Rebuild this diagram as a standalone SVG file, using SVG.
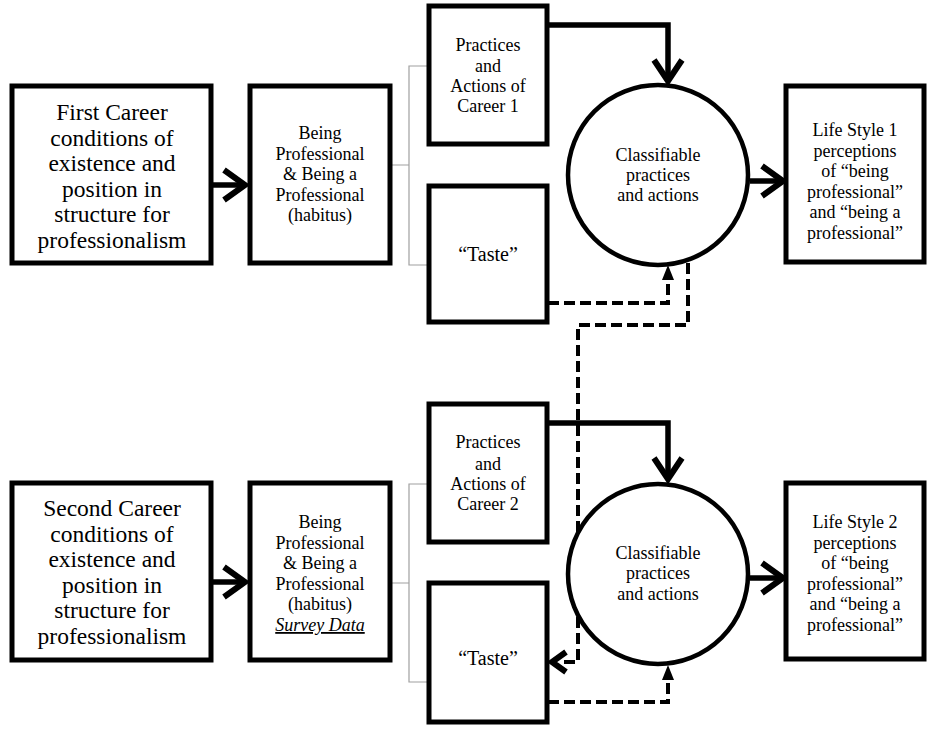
<svg xmlns="http://www.w3.org/2000/svg" width="931" height="730" viewBox="0 0 931 730">
<style>
.box{fill:#fff;stroke:#000;stroke-width:5}
.circ{fill:#fff;stroke:#000;stroke-width:4.5}
.t{font-family:"Liberation Serif","Times New Roman",serif;fill:#000;text-anchor:middle}
.big{font-size:23.5px}
.sm{font-size:18px}
.taste{font-size:20px}
.solid{fill:none;stroke:#000;stroke-width:5.5;stroke-linejoin:miter}
.dash{fill:none;stroke:#000;stroke-width:4;stroke-dasharray:11 5}
.chev{fill:none;stroke:#000;stroke-width:6;stroke-linecap:butt;stroke-linejoin:miter}
.tri{fill:#000}
.br{fill:none;stroke:#a0a0a0;stroke-width:1.2}
</style>
<g id="connectors">
  <path class="br" d="M391,165 H409 M428,66 H409 V265 H428"/>
  <path class="br" d="M391,583 H409 M428,484 H409 V682 H428"/>
  <path class="solid" d="M212,185 H244"/>
  <path class="chev" d="M224,170 L245,185 L224,200"/>
  <path class="solid" d="M548,25 H668 V80"/>
  <path class="chev" d="M654,60 L668,81 L682,60"/>
  <path class="solid" d="M750,181 H781"/>
  <path class="chev" d="M762,166 L783,181 L762,196"/>
  <path class="dash" d="M548,303 H668 V278"/>
  <path class="tri" d="M668,265 L674,280 L662,280 Z"/>
  <path class="dash" d="M688,263 V325 H578 V662 H562"/>
  <path class="chev" d="M566,652 L552,662 L566,672"/>
  <path class="solid" d="M212,582 H244"/>
  <path class="chev" d="M224,567 L245,582 L224,597"/>
  <path class="solid" d="M548,423 H668 V478"/>
  <path class="chev" d="M654,458 L668,479 L682,458"/>
  <path class="solid" d="M750,578 H781"/>
  <path class="chev" d="M762,563 L783,578 L762,593"/>
  <path class="dash" d="M548,702 H668 V678"/>
  <path class="tri" d="M668,665 L674,680 L662,680 Z"/>
</g>
<g id="career1">
  <rect class="box" x="12" y="86" width="199" height="177"/>
  <text class="t big"><tspan x="112" y="120">First Career</tspan><tspan x="112" y="146">conditions of</tspan><tspan x="112" y="171">existence and</tspan><tspan x="112" y="197">position in</tspan><tspan x="112" y="222">structure for</tspan><tspan x="112" y="248">professionalism</tspan></text>
</g>
<g id="habitus1">
  <rect class="box" x="250" y="86" width="140" height="177"/>
  <text class="t sm"><tspan x="320" y="139">Being</tspan><tspan x="320" y="160">Professional</tspan><tspan x="320" y="180">&amp; Being a</tspan><tspan x="320" y="201">Professional</tspan><tspan x="320" y="221">(habitus)</tspan></text>
</g>
<g id="practices1">
  <rect class="box" x="429" y="6" width="118" height="138"/>
  <text class="t sm"><tspan x="488" y="51">Practices</tspan><tspan x="488" y="72">and</tspan><tspan x="488" y="92">Actions of</tspan><tspan x="488" y="112">Career 1</tspan></text>
</g>
<g id="taste1">
  <rect class="box" x="429" y="186" width="118" height="136"/>
  <text class="t taste" x="488" y="261">“Taste”</text>
</g>
<g id="classifiable1">
  <circle class="circ" cx="658" cy="175" r="90"/>
  <text class="t sm"><tspan x="658" y="161">Classifiable</tspan><tspan x="658" y="181">practices</tspan><tspan x="658" y="201">and actions</tspan></text>
</g>
<g id="lifestyle1">
  <rect class="box" x="786" y="86" width="138" height="176"/>
  <text class="t sm"><tspan x="855" y="136">Life Style 1</tspan><tspan x="855" y="157">perceptions</tspan><tspan x="855" y="177">of “being</tspan><tspan x="855" y="198">professional”</tspan><tspan x="855" y="218">and “being a</tspan><tspan x="855" y="239">professional”</tspan></text>
</g>
<g id="career2">
  <rect class="box" x="12" y="483" width="199" height="177"/>
  <text class="t big"><tspan x="112" y="516">Second Career</tspan><tspan x="112" y="542">conditions of</tspan><tspan x="112" y="567">existence and</tspan><tspan x="112" y="593">position in</tspan><tspan x="112" y="618">structure for</tspan><tspan x="112" y="644">professionalism</tspan></text>
</g>
<g id="habitus2">
  <rect class="box" x="250" y="483" width="140" height="177"/>
  <text class="t sm"><tspan x="320" y="528">Being</tspan><tspan x="320" y="549">Professional</tspan><tspan x="320" y="569">&amp; Being a</tspan><tspan x="320" y="590">Professional</tspan><tspan x="320" y="610">(habitus)</tspan><tspan x="320" y="631" font-style="italic" text-decoration="underline">Survey Data</tspan></text>
</g>
<g id="practices2">
  <rect class="box" x="429" y="404" width="118" height="138"/>
  <text class="t sm"><tspan x="488" y="448">Practices</tspan><tspan x="488" y="470">and</tspan><tspan x="488" y="490">Actions of</tspan><tspan x="488" y="510">Career 2</tspan></text>
</g>
<g id="taste2">
  <rect class="box" x="429" y="583" width="118" height="139"/>
  <text class="t taste" x="488" y="665">“Taste”</text>
</g>
<g id="classifiable2">
  <circle class="circ" cx="658" cy="574" r="90"/>
  <text class="t sm"><tspan x="658" y="559">Classifiable</tspan><tspan x="658" y="579">practices</tspan><tspan x="658" y="600">and actions</tspan></text>
</g>
<g id="lifestyle2">
  <rect class="box" x="786" y="483" width="138" height="176"/>
  <text class="t sm"><tspan x="855" y="528">Life Style 2</tspan><tspan x="855" y="549">perceptions</tspan><tspan x="855" y="569">of “being</tspan><tspan x="855" y="590">professional”</tspan><tspan x="855" y="610">and “being a</tspan><tspan x="855" y="631">professional”</tspan></text>
</g>
</svg>
